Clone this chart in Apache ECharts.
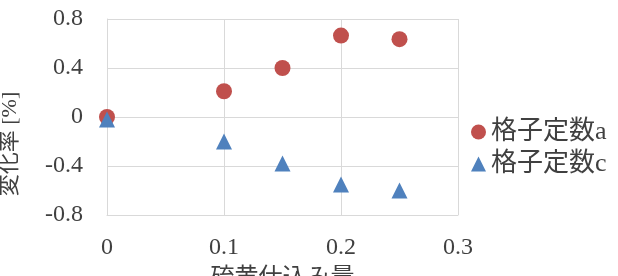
<!DOCTYPE html>
<html lang="ja">
<head>
    <meta charset="UTF-8">
    <title>格子定数</title>
    <script src="https://cdn.jsdelivr.net/npm/echarts@6/dist/echarts.min.js"></script>
    <style>
        html, body { margin: 0; padding: 0; background: #fff; }
        #main { width: 618px; height: 276px; }
    </style>
</head>
<body>
<div id="main"></div>
<script type="text/javascript">
    // 硫黄仕込み量
    var sulfur = [0, 0.1, 0.15, 0.2, 0.25];
    // 変化率 [%]
    var latticeA = [0.0, 0.21, 0.40, 0.665, 0.635];
    var latticeC = [-0.02, -0.20, -0.38, -0.55, -0.60];
    var xTicks = [0, 0.1, 0.2, 0.3];
    var yTicks = [-0.8, -0.4, 0, 0.4, 0.8];

    var font = "'Liberation Serif', 'Noto Sans CJK JP', serif";
    var textColor = '#404040';

    function pairs(xs, ys) {
        return xs.map(function (x, i) { return [x, ys[i]]; });
    }

    var myChart = echarts.init(document.getElementById('main'));

    var option = {
        animation: false,
        textStyle: { fontFamily: font },
        grid: { left: 107, right: 160, top: 19, bottom: 61, outerBoundsMode: 'none', containLabel: false },
        legend: {
            orient: 'vertical',
            left: 466,
            top: 114,
            itemWidth: 15,
            itemHeight: 15,
            itemGap: 6,
            textStyle: { fontSize: 26, color: textColor, fontFamily: font },
            data: [
                { name: '格子定数a', icon: 'circle' },
                { name: '格子定数c', icon: 'triangle' }
            ]
        },
        xAxis: {
            type: 'value',
            min: xTicks[0],
            max: xTicks[xTicks.length - 1],
            interval: 0.1,
            name: '硫黄仕込み量',
            nameLocation: 'middle',
            nameGap: 52,
            nameTextStyle: { fontSize: 24, color: textColor, fontFamily: font },
            axisLine: { show: true, onZero: false, lineStyle: { color: '#d9d9d9' } },
            axisTick: { show: false },
            splitLine: { show: true, lineStyle: { color: '#d9d9d9' } },
            axisLabel: { fontSize: 24, color: textColor, margin: 21, fontFamily: font }
        },
        yAxis: {
            type: 'value',
            min: yTicks[0],
            max: yTicks[yTicks.length - 1],
            interval: 0.4,
            axisLine: { show: true, lineStyle: { color: '#d9d9d9' } },
            axisTick: { show: false },
            splitLine: { show: true, lineStyle: { color: '#d9d9d9' } },
            axisLabel: { fontSize: 24, color: textColor, margin: 24, fontFamily: font }
        },
        graphic: [{
            type: 'text',
            x: 10,
            y: 144,
            rotation: Math.PI / 2,
            style: {
                text: '変化率 [%]',
                font: '22px ' + font,
                fill: textColor,
                textAlign: 'center',
                textVerticalAlign: 'middle'
            }
        }],
        series: [
            {
                name: '格子定数a',
                type: 'scatter',
                symbol: 'circle',
                symbolSize: 16,
                itemStyle: { color: '#c0504d', opacity: 1 },
                data: pairs(sulfur, latticeA)
            },
            {
                name: '格子定数c',
                type: 'scatter',
                symbol: 'triangle',
                symbolSize: 16,
                itemStyle: { color: '#4f81bd', opacity: 1 },
                data: pairs(sulfur, latticeC)
            }
        ]
    };

    myChart.setOption(option);
</script>
</body>
</html>
